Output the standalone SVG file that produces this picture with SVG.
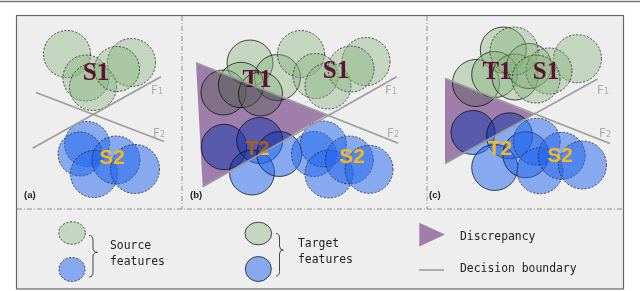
<svg xmlns="http://www.w3.org/2000/svg" width="640" height="291" viewBox="0 0 640 291">
<style>
.sg{fill:rgb(133,178,123);fill-opacity:.4;stroke:#2a2a2a;stroke-width:.8;stroke-dasharray:2.2 1.5}
.sb{fill:rgb(30,100,240);fill-opacity:.5;stroke:#2a2a2a;stroke-width:.8;stroke-dasharray:2.2 1.5}
.tg{fill:rgb(133,178,123);fill-opacity:.4;stroke:#1a1a1a;stroke-width:.8}
.tb{fill:rgb(30,100,240);fill-opacity:.5;stroke:#1a1a1a;stroke-width:.8}
.tri{fill:rgb(171,135,184);mix-blend-mode:multiply}
.bd{stroke:#9b9b9b;stroke-width:1.6;fill:none}
.lab1{font-family:"Liberation Serif",serif;font-weight:bold;font-size:25px;fill:#5c1237;text-anchor:middle}
.lab2{font-family:"Liberation Sans",Arial,sans-serif;font-weight:bold;font-size:21px;fill:#f6b91c;text-anchor:middle}
.fl{font-family:"DejaVu Sans",sans-serif;font-size:12px;fill:#ababab}
.fl tspan{font-size:8px}
.pl{font-family:"Liberation Sans",Arial,sans-serif;font-weight:bold;font-size:9.5px;fill:#222}
.lg{font-family:"DejaVu Sans Mono",monospace;font-size:11.4px;fill:#222}
.div{stroke:#777;stroke-width:.8;stroke-dasharray:5 2 1 2;fill:none}
.br{stroke:#333;stroke-width:.9;fill:none}
</style>
<line x1="0" y1="1.5" x2="640" y2="1.5" stroke="#777" stroke-width="1.3"/>
<rect x="16.5" y="15.5" width="607" height="273.5" fill="#eeeeee" stroke="#666" stroke-width="1.2"/>
<g id="dividers">
<line class="div" x1="182" y1="16" x2="182" y2="209"/>
<line class="div" x1="427" y1="16" x2="427" y2="209"/>
<line class="div" x1="17" y1="209" x2="623" y2="209"/>
</g>
<g id="panel-a">
<g id="a-source1">
<circle class="sg" cx="67" cy="54" r="23.5"/>
<circle class="sg" cx="131.5" cy="62.5" r="24"/>
<circle class="sg" cx="86" cy="78" r="23"/>
<circle class="sg" cx="93" cy="87" r="23.5"/>
<circle class="sg" cx="117" cy="69" r="22.5"/>
<text class="lab1" x="96" y="80">S1</text>
</g>
<g id="a-source2">
<circle class="sb" cx="87" cy="144" r="22.5"/>
<circle class="sb" cx="80" cy="154" r="22"/>
<circle class="sb" cx="94" cy="174" r="23.5"/>
<circle class="sb" cx="116" cy="160" r="24"/>
<circle class="sb" cx="135" cy="169" r="24.5"/>
<text class="lab2" x="112" y="163.5">S2</text>
</g>
<text class="pl" x="24" y="198">(a)</text>
</g>
<g id="panel-b">
<g id="b-target1">
<circle class="tg" cx="250" cy="63" r="23"/>
<circle class="tg" cx="277.5" cy="77.5" r="23"/>
<circle class="tg" cx="223.5" cy="92.5" r="22.5"/>
<circle class="tg" cx="241" cy="85" r="22.7"/>
<circle class="tg" cx="260.5" cy="94" r="22"/>
<text class="lab1" x="257" y="87">T1</text>
</g>
<g id="b-source1">
<circle class="sg" cx="301" cy="54" r="23.5"/>
<circle class="sg" cx="366" cy="61.5" r="24"/>
<circle class="sg" cx="315.5" cy="76" r="22.5"/>
<circle class="sg" cx="328" cy="86" r="23"/>
<circle class="sg" cx="351" cy="69" r="23"/>
<text class="lab1" x="336" y="77.5">S1</text>
</g>
<g id="b-target2">
<circle class="tb" cx="224" cy="147" r="22.7"/>
<circle class="tb" cx="259.7" cy="140.5" r="23"/>
<circle class="tb" cx="252" cy="172.5" r="22.5"/>
<circle class="tb" cx="279.3" cy="154" r="22.5"/>
<text class="lab2" x="257.5" y="155">T2</text>
</g>
<g id="b-source2">
<circle class="sb" cx="314" cy="154" r="22.5"/>
<circle class="sb" cx="323.3" cy="144" r="23"/>
<circle class="sb" cx="329" cy="174" r="24"/>
<circle class="sb" cx="349.3" cy="160" r="24"/>
<circle class="sb" cx="369" cy="169.3" r="24"/>
<text class="lab2" x="352" y="163">S2</text>
</g>
<polygon id="b-discrepancy" class="tri" points="196,62.7 326.7,115 202.7,186.7"/>
<text class="pl" x="190" y="198">(b)</text>
</g>
<g id="panel-c">
<g id="c-target1">
<circle class="tg" cx="503.3" cy="50" r="23"/>
<circle class="tg" cx="476" cy="83" r="23.5"/>
<circle class="tg" cx="494.7" cy="74.5" r="23"/>
<circle class="tg" cx="515" cy="77" r="23"/>
<circle class="tg" cx="529" cy="66" r="22.5"/>
</g>
<g id="c-source1">
<circle class="sg" cx="514" cy="51" r="24"/>
<circle class="sg" cx="577.5" cy="58.7" r="24"/>
<circle class="sg" cx="549" cy="71" r="23"/>
<circle class="sg" cx="536" cy="79" r="24"/>
</g>
<text class="lab1" x="497" y="79">T1</text>
<text class="lab1" x="546" y="79">S1</text>
<g id="c-target2">
<circle class="tb" cx="473" cy="132.5" r="22"/>
<circle class="tb" cx="509.5" cy="135.8" r="23"/>
<circle class="tb" cx="494.7" cy="167.5" r="23"/>
<circle class="tb" cx="525.8" cy="154.7" r="23"/>
</g>
<g id="c-source2">
<circle class="sb" cx="536.7" cy="141.7" r="23.5"/>
<circle class="sb" cx="540" cy="170.8" r="23"/>
<circle class="sb" cx="561.7" cy="155.8" r="23.5"/>
<circle class="sb" cx="582.5" cy="165" r="24"/>
</g>
<text class="lab2" x="500" y="155">T2</text>
<text class="lab2" x="560" y="162">S2</text>
<polygon id="c-discrepancy" class="tri" points="445,78.5 534,114.5 445,163.5"/>
<text class="pl" x="429" y="198">(c)</text>
</g>
<g id="boundaries">
<line class="bd" x1="32.5" y1="148.3" x2="161" y2="76.7"/>
<line class="bd" x1="36" y1="92.5" x2="164" y2="141.5"/>
<line class="bd" x1="202.7" y1="186.7" x2="396.7" y2="76.7"/>
<line class="bd" x1="196" y1="62.7" x2="398.3" y2="143.3"/>
<line class="bd" x1="445" y1="163.5" x2="597.5" y2="79"/>
<line class="bd" x1="445" y1="78.5" x2="610" y2="143.5"/>
</g>
<g id="boundary-labels">
<text class="fl" x="151" y="94">F<tspan>1</tspan></text>
<text class="fl" x="153" y="137">F<tspan>2</tspan></text>
<text class="fl" x="385" y="94">F<tspan>1</tspan></text>
<text class="fl" x="387" y="137">F<tspan>2</tspan></text>
<text class="fl" x="597" y="94">F<tspan>1</tspan></text>
<text class="fl" x="599" y="137">F<tspan>2</tspan></text>
</g>
<g id="legend">
<g id="legend-source">
<ellipse class="sg" cx="72" cy="233" rx="13.3" ry="11.3"/>
<ellipse class="sb" cx="72" cy="269.5" rx="13" ry="12"/>
<path class="br" d="M89,235.5 Q93,235.5 93,240 L93,248 Q93,252.3 97.5,252.3 Q93,252.3 93,256.5 L93,272.5 Q93,277 89,277"/>
<text class="lg" x="110" y="249">Source</text>
<text class="lg" x="110" y="265">features</text>
</g>
<g id="legend-target">
<ellipse class="tg" cx="258.3" cy="233.5" rx="13.3" ry="11.3"/>
<ellipse class="tb" cx="258.3" cy="269" rx="13" ry="12.5"/>
<path class="br" d="M276,233.5 Q279.5,233.5 279.5,238 L279.5,246 Q279.5,250 283.3,250 Q279.5,250 279.5,254 L279.5,271.5 Q279.5,276 276,276"/>
<text class="lg" x="298" y="247">Target</text>
<text class="lg" x="298" y="263">features</text>
</g>
<g id="legend-discrepancy">
<polygon class="tri" points="419.3,222.7 445,234.5 419.3,246.5"/>
<text class="lg" x="460" y="240">Discrepancy</text>
</g>
<g id="legend-boundary">
<line class="bd" x1="419" y1="270" x2="444" y2="270" stroke-width="2"/>
<text class="lg" x="460" y="272">Decision boundary</text>
</g>
</g>
</svg>
